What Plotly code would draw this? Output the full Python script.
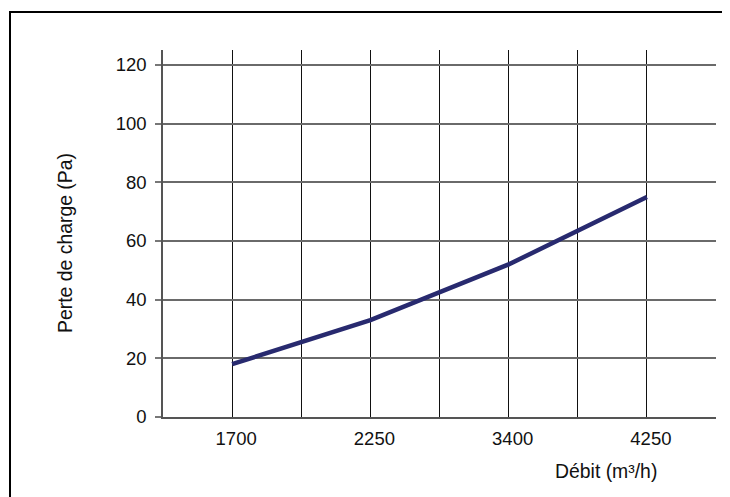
import plotly.graph_objects as go

categories = ["1700", "2250", "3400", "4250"]
pressure_loss = [18, 33, 52, 75]
cat_positions = [1, 3, 5, 7]
y_ticks = [0, 20, 40, 60, 80, 100, 120]

FONT = "Liberation Sans, Arial, sans-serif"

fig = go.Figure()
fig.add_trace(go.Scatter(
    x=cat_positions, y=pressure_loss, mode="lines",
    line=dict(color="#282a6f", width=4.5),
    hoverinfo="skip", showlegend=False,
))

# reference plot area in page pixels: x 163..716, y 50..417 ; page body offset 8px
PL, PR, PT, PB = 163, 716, 50, 417
OFF = 8
W, H = 730, 497
L = PL - OFF
T = PT - OFF
R = W - L - (PR - PL)
B = H - T - (PB - PT)
pw, ph = PR - PL, PB - PT

def px_x(px):
    return (px - PL) / pw

def px_y(py):
    return (PB - py) / ph

fig.update_layout(
    width=W, height=H,
    margin=dict(l=L, r=R, t=T, b=B),
    paper_bgcolor="white", plot_bgcolor="white",
    font=dict(family=FONT, size=16, color="#111111"),
    xaxis=dict(
        range=[0, 8], tickvals=cat_positions, ticktext=categories,
        showgrid=True, gridcolor="#111111", gridwidth=1,
        minor=dict(tick0=0, dtick=1, showgrid=True, gridcolor="#111111", gridwidth=1),
        showline=True, linecolor="#555555", linewidth=1.5,
        ticks="", ticklabelstandoff=4, ticklabelshift=4, zeroline=False,
        tickfont=dict(family=FONT, size=18.5, color="#111111"),
    ),
    yaxis=dict(
        range=[0, 125.1], tickvals=y_ticks,
        showgrid=True, gridcolor="#6a6a6a", gridwidth=1.5,
        showline=True, linecolor="#555555", linewidth=1.5,
        ticks="outside", ticklen=6, tickcolor="#777777", tickwidth=1.5,
        ticklabelstandoff=5, zeroline=False,
        tickfont=dict(family=FONT, size=18.5, color="#111111"),
    ),
    shapes=[dict(
        type="rect", xref="paper", yref="paper",
        x0=px_x(10), y0=px_y(530), x1=px_x(760), y1=px_y(12),
        line=dict(color="#000000", width=2), fillcolor="rgba(0,0,0,0)",
        layer="below",
    )],
    annotations=[
        dict(text="Perte de charge (Pa)", xref="paper", yref="paper",
             x=px_x(65), y=px_y(243), textangle=-90, showarrow=False,
             xanchor="center", yanchor="middle",
             font=dict(family=FONT, size=19.4, color="#111111")),
        dict(text="Débit (m³/h)", xref="paper", yref="paper",
             x=px_x(606), y=px_y(471), showarrow=False,
             xanchor="center", yanchor="middle",
             font=dict(family=FONT, size=19.4, color="#111111")),
    ],
)

fig.write_html("out.html")
